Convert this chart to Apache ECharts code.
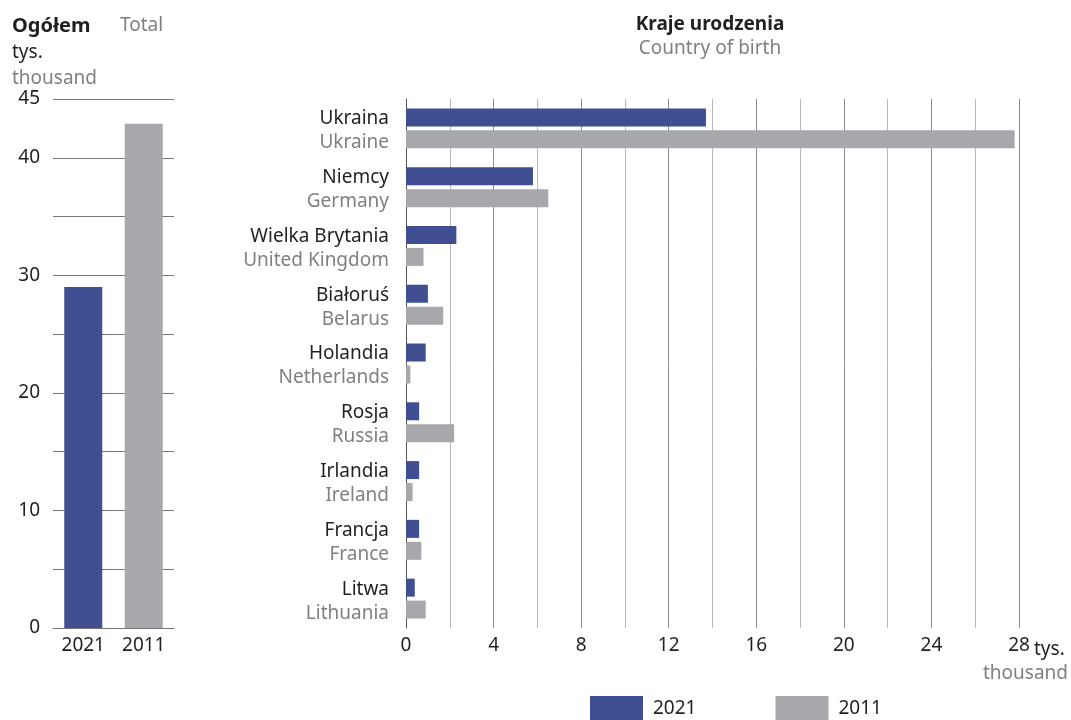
<!DOCTYPE html>
<html>
<head>
<meta charset="utf-8">
<script src="https://cdn.jsdelivr.net/npm/echarts@6/dist/echarts.min.js"></script>
<style>
	html, body { margin: 0; padding: 0; background: #fff; }
	#chart { width: 1071px; height: 720px; }
</style>
</head>
<body>
<div id="chart"></div>
<script>
	// dane
	var totalYears = ['2021', '2011'];
	var totalValues = [29.0, 42.9];

	var countriesPl = ['Ukraina', 'Niemcy', 'Wielka Brytania', 'Białoruś', 'Holandia', 'Rosja', 'Irlandia', 'Francja', 'Litwa'];
	var countriesEn = ['Ukraine', 'Germany', 'United Kingdom', 'Belarus', 'Netherlands', 'Russia', 'Ireland', 'France', 'Lithuania'];
	var values2021 = [13.7, 5.8, 2.3, 1.0, 0.9, 0.6, 0.6, 0.6, 0.4];
	var values2011 = [27.8, 6.5, 0.8, 1.7, 0.2, 2.2, 0.3, 0.7, 0.9];

	var blue = '#3f4f91';
	var grey = '#a7a8ab';
	var dark = '#231f20';
	var muted = '#808080';
	var font = 'Noto Sans';

	var myChart = echarts.init(document.getElementById('chart'));

	var options = {
		animation: false,
		textStyle: { fontFamily: font },
		grid: [
			{ left: 53, top: 99, width: 121, height: 529 },
			{ left: 406, top: 99, width: 613, height: 529 }
		],
		xAxis: [
			{
				gridIndex: 0,
				type: 'category',
				data: totalYears,
				axisLine: { lineStyle: { color: '#777', width: 1 } },
				axisTick: { show: false },
				axisLabel: { color: dark, fontSize: 19, margin: 8, fontFamily: font }
			},
			{
				gridIndex: 1,
				type: 'value',
				min: 0,
				max: 28,
				interval: 2,
				axisLine: { show: false },
				axisTick: { show: false },
				axisLabel: {
					color: dark, fontSize: 19, margin: 8, fontFamily: font,
					formatter: function (v) { return v % 4 === 0 ? String(v) : ''; }
				},
				splitLine: { lineStyle: { color: ['#8c8c8c', '#b8b8b8'], width: 1 } }
			}
		],
		yAxis: [
			{
				gridIndex: 0,
				type: 'value',
				min: 0,
				max: 45,
				interval: 5,
				axisLine: { show: false },
				axisTick: { show: false },
				axisLabel: {
					color: dark, fontSize: 19, margin: 13, fontFamily: font,
					formatter: function (v) { return (v % 10 === 0 || v === 45) ? String(v) : ''; }
				},
				splitLine: { lineStyle: { color: '#777', width: 1 } }
			},
			{
				gridIndex: 1,
				type: 'category',
				inverse: true,
				data: countriesPl,
				axisLine: { lineStyle: { color: '#555', width: 1 } },
				axisTick: { length: 6, lineStyle: { color: '#555' } },
				axisLabel: {
					margin: 17,
					align: 'right',
					padding: [5, 0, 0, 0],
					formatter: function (v, i) {
						return '{pl|' + v + '}\n{en|' + countriesEn[i] + '}';
					},
					rich: {
						pl: { color: dark, fontSize: 19, lineHeight: 24, fontFamily: font, align: 'right' },
						en: { color: muted, fontSize: 19, lineHeight: 24, fontFamily: font, align: 'right' }
					}
				}
			}
		],
		legend: {
			data: ['2021', '2011'],
			left: 585,
			top: 691,
			itemWidth: 53,
			itemHeight: 26,
			itemGap: 79,
			icon: 'rect',
			textStyle: { color: dark, fontSize: 19, fontFamily: font, padding: [4, 0, 0, 5] }
		},
		series: [
			{
				type: 'bar',
				xAxisIndex: 0,
				yAxisIndex: 0,
				barWidth: 38,
				data: totalValues.map(function (v, i) {
					return { value: v, itemStyle: { color: i === 0 ? blue : grey } };
				})
			},
			{
				name: '2021',
				type: 'bar',
				xAxisIndex: 1,
				yAxisIndex: 1,
				barWidth: 18,
				barGap: '22%',
				itemStyle: { color: blue },
				data: values2021
			},
			{
				name: '2011',
				type: 'bar',
				xAxisIndex: 1,
				yAxisIndex: 1,
				barWidth: 18,
				barGap: '22%',
				itemStyle: { color: grey },
				data: values2011
			}
		],
		graphic: [
			{ type: 'text', x: 12, y: 26, style: { text: 'Ogółem', fill: dark, fontSize: 20, fontWeight: 'bold', fontFamily: font, verticalAlign: 'middle' } },
			{ type: 'text', x: 120, y: 26, style: { text: 'Total', fill: muted, fontSize: 19, fontFamily: font, verticalAlign: 'middle' } },
			{ type: 'text', x: 12, y: 53, style: { text: 'tys.', fill: dark, fontSize: 19, fontFamily: font, verticalAlign: 'middle' } },
			{ type: 'text', x: 12, y: 79, style: { text: 'thousand', fill: muted, fontSize: 19, fontFamily: font, verticalAlign: 'middle' } },
			{ type: 'text', x: 710, y: 25, style: { text: 'Kraje urodzenia', fill: dark, fontSize: 19, fontWeight: 'bold', fontFamily: font, align: 'center', verticalAlign: 'middle' } },
			{ type: 'text', x: 710, y: 49, style: { text: 'Country of birth', fill: muted, fontSize: 19, fontFamily: font, align: 'center', verticalAlign: 'middle' } },
			{ type: 'text', x: 1034, y: 650, style: { text: 'tys.', fill: dark, fontSize: 19, fontFamily: font, verticalAlign: 'middle' } },
			{ type: 'text', x: 1068, y: 674, style: { text: 'thousand', fill: muted, fontSize: 19, fontFamily: font, align: 'right', verticalAlign: 'middle' } }
		]
	};

	myChart.setOption(options);
</script>
</body>
</html>
